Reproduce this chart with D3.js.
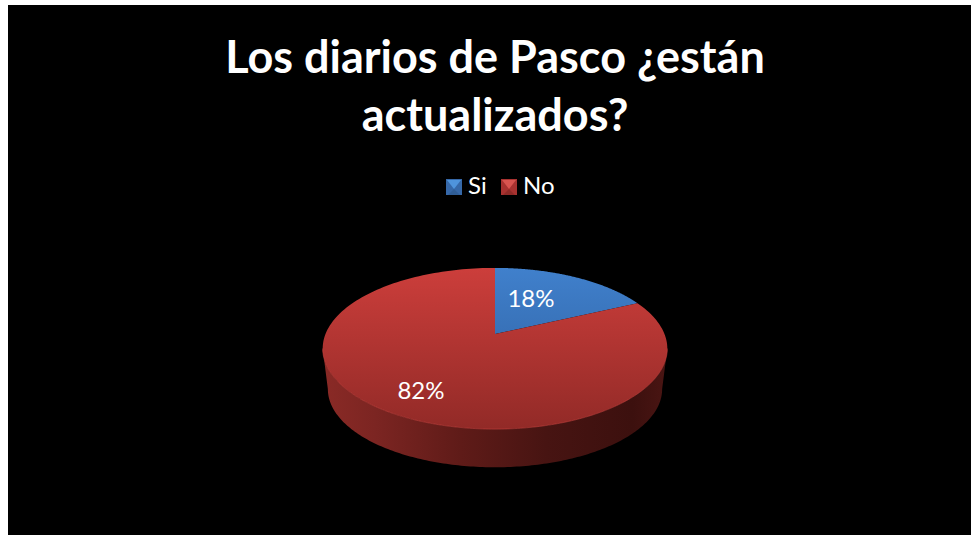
<!DOCTYPE html>
<html>
<head>
<meta charset="utf-8">
<style>
html,body{margin:0;padding:0;background:#fff;overflow:hidden}
svg{display:block}
text{font-family:Lato,"Open Sans",sans-serif;fill:#fff}
</style>
<script src="https://cdn.jsdelivr.net/npm/d3@7/dist/d3.min.js"></script>
</head>
<body>
<script>
const categories = ["Si", "No"];
const values = [18, 82];
const titleLines = ["Los diarios de Pasco ¿están", "actualizados?"];
const sliceTop = {Si: "#4080cc", No: "#cc3e3b"};
const sliceBottom = {Si: "#2c5c9a", No: "#922a27"};
const bevelColors = {
  Si: {top: "#4f94dc", side: "#3668a8", bottom: "#2f5d96"},
  No: {top: "#d8544f", side: "#a83230", bottom: "#8f2a27"}
};

const W = 971, H = 535;
const svg = d3.select("body").append("svg").attr("width", W).attr("height", H);
const defs = svg.append("defs");

svg.append("rect").attr("x", 8).attr("y", 5).attr("width", W - 8).attr("height", H - 5).attr("fill", "#000");

// Perspective view of the pie disc: u across, v going away from the viewer
const apex = {x: 495, y: 334};
const tilt = 0.18, spanX = 169.5, spanY = 78;
const project = (angle, scale = 1, dy = 0) => {
  const u = Math.sin(angle), v = Math.cos(angle);
  const w = 1 + tilt * v;
  return [apex.x + scale * spanX * u / w, apex.y + dy - scale * spanY * v / w];
};

const pieAngles = d3.pie().sort(null).value(d => d)(values);
const outline = d3.line();
const sampleArc = (a0, a1, scale, dy) =>
  d3.range(0, 181).map(i => project(a0 + (a1 - a0) * i / 180, scale, dy));

// Gradients
const vGrad = (id, c0, c1) => {
  const g = defs.append("linearGradient").attr("id", id).attr("gradientUnits", "userSpaceOnUse")
    .attr("x1", 0).attr("x2", 0).attr("y1", project(0)[1]).attr("y2", project(Math.PI)[1]);
  g.append("stop").attr("offset", 0).attr("stop-color", c0);
  g.append("stop").attr("offset", 1).attr("stop-color", c1);
};
categories.forEach(c => vGrad("top-" + c, sliceTop[c], sliceBottom[c]));

const wallGrad = defs.append("linearGradient").attr("id", "wall").attr("gradientUnits", "userSpaceOnUse")
  .attr("x1", 323).attr("x2", 667).attr("y1", 0).attr("y2", 0);
[[0, "#8a2a26"], [0.15, "#7c2522"], [0.4, "#5f1b18"], [0.65, "#471412"], [0.9, "#3c100e"], [1, "#4a1513"]]
  .forEach(([o, c]) => wallGrad.append("stop").attr("offset", o).attr("stop-color", c));

// Side wall: runs between the widest points of the disc, which sit just in front of the apex
const wallDepth = 41, wallScale = 0.97;
const widest = Math.asin(tilt);
const frontStart = Math.PI * 0.5 + widest, frontEnd = Math.PI * 1.5 - widest;
const frontTop = sampleArc(frontStart, frontEnd, 1, 0);
const frontBottom = sampleArc(frontEnd, frontStart, wallScale, wallDepth);
svg.append("path").attr("d", outline(frontTop.concat(frontBottom)) + "Z").attr("fill", "url(#wall)");

// Top face, one wedge per category
pieAngles.forEach((p, i) => {
  const pts = [[apex.x, apex.y]].concat(sampleArc(p.startAngle, p.endAngle, 1, 0));
  svg.append("path").attr("d", outline(pts) + "Z").attr("fill", `url(#top-${categories[i]})`);
});

// Soft highlight where the top face meets the wall
svg.append("path").attr("d", outline(frontTop)).attr("fill", "none")
  .attr("stroke", "#c9443f").attr("stroke-opacity", 0.55).attr("stroke-width", 1);

// Percentage labels
const labelPos = {Si: [531, 307], No: [421, 399]};
categories.forEach((c, i) => {
  svg.append("text").attr("x", labelPos[c][0]).attr("y", labelPos[c][1])
    .attr("text-anchor", "middle").attr("font-size", 24).text(values[i] + "%");
});

// Title
titleLines.forEach((t, i) => {
  svg.append("text").attr("x", 495).attr("y", 72.5 + i * 58.5)
    .attr("text-anchor", "middle").attr("font-size", 45).attr("font-weight", 700).text(t);
});

// Legend with bevelled swatches
const legendX = d3.scaleOrdinal().domain(categories).range([446, 501]);
const sw = 16, legendY = 179;
categories.forEach(c => {
  const x = legendX(c), m = sw / 2, b = bevelColors[c];
  const g = svg.append("g").attr("transform", `translate(${x},${legendY})`);
  g.append("rect").attr("width", sw).attr("height", sw).attr("fill", b.side);
  g.append("path").attr("d", `M2,${sw}H${sw - 2}L${m},${m + 2}Z`).attr("fill", b.bottom);
  g.append("path").attr("d", `M1,1H${sw - 1}L${m},${m + 2}Z`).attr("fill", b.top);
  svg.append("text").attr("x", x + sw + 6).attr("y", legendY + 15).attr("font-size", 24).text(c);
});
</script>
</body>
</html>
